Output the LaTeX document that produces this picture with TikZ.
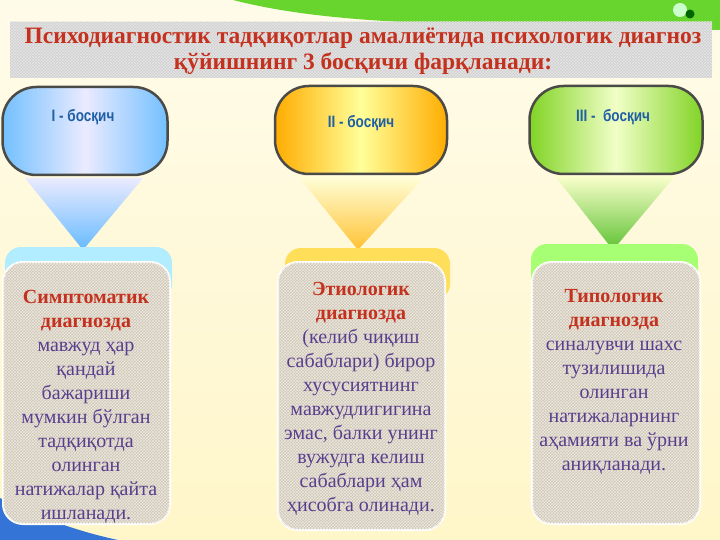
\documentclass[tikz,border=0pt]{standalone}
\usepackage{fontspec}
\setmainfont{Liberation Serif}
\newfontfamily\pillfont[FakeStretch=0.82]{Liberation Sans}
\usetikzlibrary{patterns}
\definecolor{bgcream}{HTML}{FFF6C9}
\definecolor{titlered}{HTML}{C4321F}
\definecolor{bodyviolet}{HTML}{5A3E8E}
\definecolor{pillblue}{HTML}{1F5FA6}
\definecolor{pilledge}{HTML}{4A4A46}
\definecolor{boxfill}{HTML}{CFC6B3}
\newcommand{\hd}[1]{{\bfseries\color{titlered}#1}}
\begin{document}
\begin{tikzpicture}[x=1pt, y=-1pt,
    pill/.style={draw=pilledge, line width=2.5pt, rounded corners=34pt, minimum width=165pt, minimum height=88pt},
    pilltext/.style={font=\pillfont\bfseries\fontsize{16.5}{19}\selectfont, text=pillblue},
    tab/.style={rounded corners=16pt},
    card/.style={fill=boxfill, draw=white, line width=2pt, rounded corners=20pt,
        postaction={pattern=crosshatch, pattern color=white!60!boxfill}},
    cardtext/.style={align=center, text=bodyviolet, font=\fontsize{20}{24}\selectfont},
    funnel/.style={draw=none}]
  \useasboundingbox (0,0) rectangle (720,540);
  % background
  \shade[top color=white!60!bgcream, bottom color=bgcream] (0,0) rectangle (720,540);
  \fill[green!55!lime!80!black!90, opacity=0.9] (233,0) .. controls (320,22) and (420,26) .. (720,30) -- (720,0) -- cycle;
  \fill[white!80!green] (680,10) circle (7pt);
  \fill[green!40!black] (690,14) circle (4.5pt);
  \fill[blue!60!cyan!80!black!80] (0,498) .. controls (40,518) and (80,532) .. (118,540) -- (0,540) -- cycle;
  % title
  \fill[gray!38!white] (10,22) rectangle (712,78);
  \fill[pattern=crosshatch, pattern color=white!80!gray] (10,22) rectangle (712,78);
  \node (title) at (363,51) [align=center, text=titlered,
      font=\bfseries\fontsize{23.5}{26}\selectfont]
      {Психодиагностик тадқиқотлар амалиётида психологик диагноз\\
       қўйишнинг 3 босқичи фарқланади:};
  % funnels
  \shade[funnel, top color=blue!8!white, bottom color=blue!45!cyan!60!white] (25,178) -- (143,178) -- (83,250) -- cycle;
  \shade[funnel, top color=yellow!15!white, bottom color=orange!60!yellow!80!white] (298,176) -- (425,176) -- (358,250) -- cycle;
  \shade[funnel, top color=green!10!yellow!20!white, bottom color=green!60!lime!70!black!80] (555,176) -- (675,176) -- (613,250) -- cycle;
  % stage pills
  \node (p1) at (85,131) [pill, left color=blue!45!cyan!55!white, right color=blue!45!cyan!55!white, middle color=blue!8!white] {};
  \node (p2) at (361,130) [pill, minimum width=172pt, left color=orange!65!yellow, right color=orange!65!yellow, middle color=yellow!40!white] {};
  \node (p3) at (616,130) [pill, minimum width=173pt, left color=lime!70!green!80!black!85, right color=lime!70!green!80!black!85, middle color=lime!22!white] {};
  \node (s1) at (83,117) [pilltext] {I - босқич};
  \node (s2) at (361,123) [pilltext] {II - босқич};
  \node (s3) at (613,117) [pilltext] {III -\ \ босқич};
  % cards
  \fill[tab, fill=blue!25!cyan!30!white] (5,247) rectangle (172,300);
  \fill[tab, fill=orange!40!yellow!65!white] (285,248) rectangle (450,300);
  \fill[tab, fill=lime!50!green!55!white] (531,244) rectangle (698,300);
  \draw[card] (3,262) rectangle (170,524);
  \draw[card] (278,262) rectangle (445,530);
  \draw[card] (532,262) rectangle (700,524);
  \node (t1) at (86,407) [cardtext]
      {\hd{Симптоматик}\\ \hd{диагнозда}\\ мавжуд ҳар\\ қандай\\ бажариши\\
       мумкин бўлган\\ тадқиқотда\\ олинган\\ натижалар қайта\\ ишланади.};
  \node (t2) at (361,399) [cardtext]
      {\hd{Этиологик}\\ \hd{диагнозда}\\ (келиб чиқиш\\ сабаблари) бирор\\ хусусиятнинг\\
       мавжудлигигина\\ эмас, балки унинг\\ вужудга келиш\\ сабаблари ҳам\\ ҳисобга олинади.};
  \node (t3) at (614,382) [cardtext]
      {\hd{Типологик}\\ \hd{диагнозда}\\ синалувчи шахс\\ тузилишида\\ олинган\\
       натижаларнинг\\ аҳамияти ва ўрни\\ аниқланади.};
\end{tikzpicture}
\end{document}
